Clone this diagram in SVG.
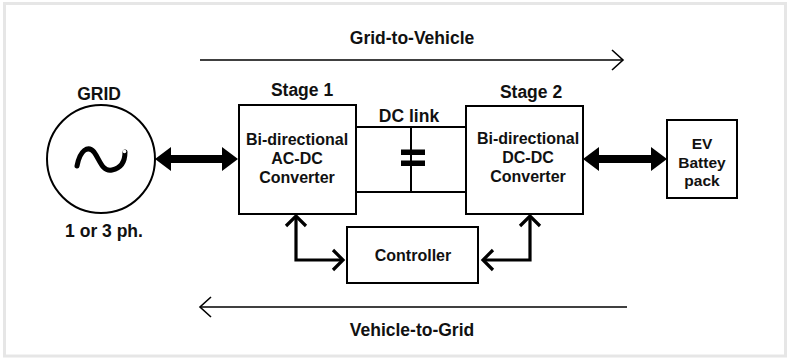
<svg xmlns="http://www.w3.org/2000/svg" width="787" height="358" viewBox="0 0 787 358">
<defs>
<style>
text{font-family:"Liberation Sans",Arial,sans-serif;font-weight:bold;fill:#111;text-anchor:middle}
.t{font-size:17.5px}
.b{font-size:16px}
.e{font-size:15.5px}
.box{fill:#fff;stroke:#000;stroke-width:2}
.wire{fill:none;stroke:#000;stroke-width:2}
.flow{fill:none;stroke:#000;stroke-width:1.6}
.ctl{fill:none;stroke:#000;stroke-width:3.2;stroke-linejoin:miter}
.thick{fill:#000}
</style>
</defs>
<rect x="0" y="0" width="787" height="358" fill="#fff"/>
<rect x="4.5" y="3.5" width="781" height="352.5" fill="none" stroke="#e6e6e6" stroke-width="3"/>

<g id="grid">
<circle cx="101" cy="159" r="54" fill="#fff" stroke="#000" stroke-width="2"/>
<path d="M77,166 C80,150 88,145 94,152 C100,160 102,172 112,170 C122,168 125,160 125,152" fill="none" stroke="#000" stroke-width="5" stroke-linecap="round"/>
<circle cx="124.5" cy="151.5" r="1.8" fill="#fff"/>
<text class="t" x="99" y="100">GRID</text>
<text class="t" x="104" y="237">1 or 3 ph.</text>
</g>

<g id="stage1">
<rect class="box" x="239" y="105" width="117" height="109"/>
<text class="t" x="302" y="96">Stage 1</text>
<text class="b" x="297" y="145">Bi-directional</text>
<text class="b" x="297" y="164">AC-DC</text>
<text class="b" x="297" y="183">Converter</text>
</g>

<g id="dclink">
<text class="t" x="409" y="122">DC link</text>
<line class="wire" x1="356" y1="127" x2="466" y2="127"/>
<line class="wire" x1="356" y1="192" x2="466" y2="192"/>
<line class="wire" x1="411" y1="127" x2="411" y2="192"/>
<rect x="401" y="149.5" width="24" height="5.5" fill="#000"/>
<rect x="401" y="160.5" width="24" height="5.5" fill="#000"/>
</g>

<g id="stage2">
<rect class="box" x="466" y="106" width="117" height="108"/>
<text class="t" x="531" y="98">Stage 2</text>
<text class="b" x="528" y="144">Bi-directional</text>
<text class="b" x="528" y="163">DC-DC</text>
<text class="b" x="528" y="182">Converter</text>
</g>

<g id="battery">
<rect class="box" x="667" y="120" width="70" height="78"/>
<text class="e" x="702" y="149">EV</text>
<text class="e" x="702" y="168">Battey</text>
<text class="e" x="702" y="186">pack</text>
</g>

<g id="controller">
<rect class="box" x="347" y="227" width="131" height="56"/>
<text class="b" x="413" y="261">Controller</text>
</g>

<g id="connectors">
<polygon class="thick" points="155,159 171,147 171,155 222,155 222,147 238,159 222,171 222,163 171,163 171,171"/>
<polygon class="thick" points="583,159 599,147 599,155 651,155 651,147 667,159 651,171 651,163 599,163 599,171"/>
<path class="ctl" d="M296,216 V260 H342"/>
<path class="ctl" d="M286,226 L296,216 L306,226"/>
<path class="ctl" d="M333,250 L343,260 L333,270"/>
<path class="ctl" d="M530,216 V260 H484"/>
<path class="ctl" d="M520,226 L530,216 L540,226"/>
<path class="ctl" d="M493,250 L483,260 L493,270"/>
<line class="flow" x1="200" y1="60" x2="623" y2="60"/>
<path class="flow" d="M612,50 L623,60 L612,70"/>
<line class="flow" x1="627" y1="307" x2="200" y2="307"/>
<path class="flow" d="M211,297 L200,307 L211,317"/>
</g>
<text class="t" x="412" y="44">Grid-to-Vehicle</text>
<text class="t" x="412" y="336">Vehicle-to-Grid</text>
</svg>
